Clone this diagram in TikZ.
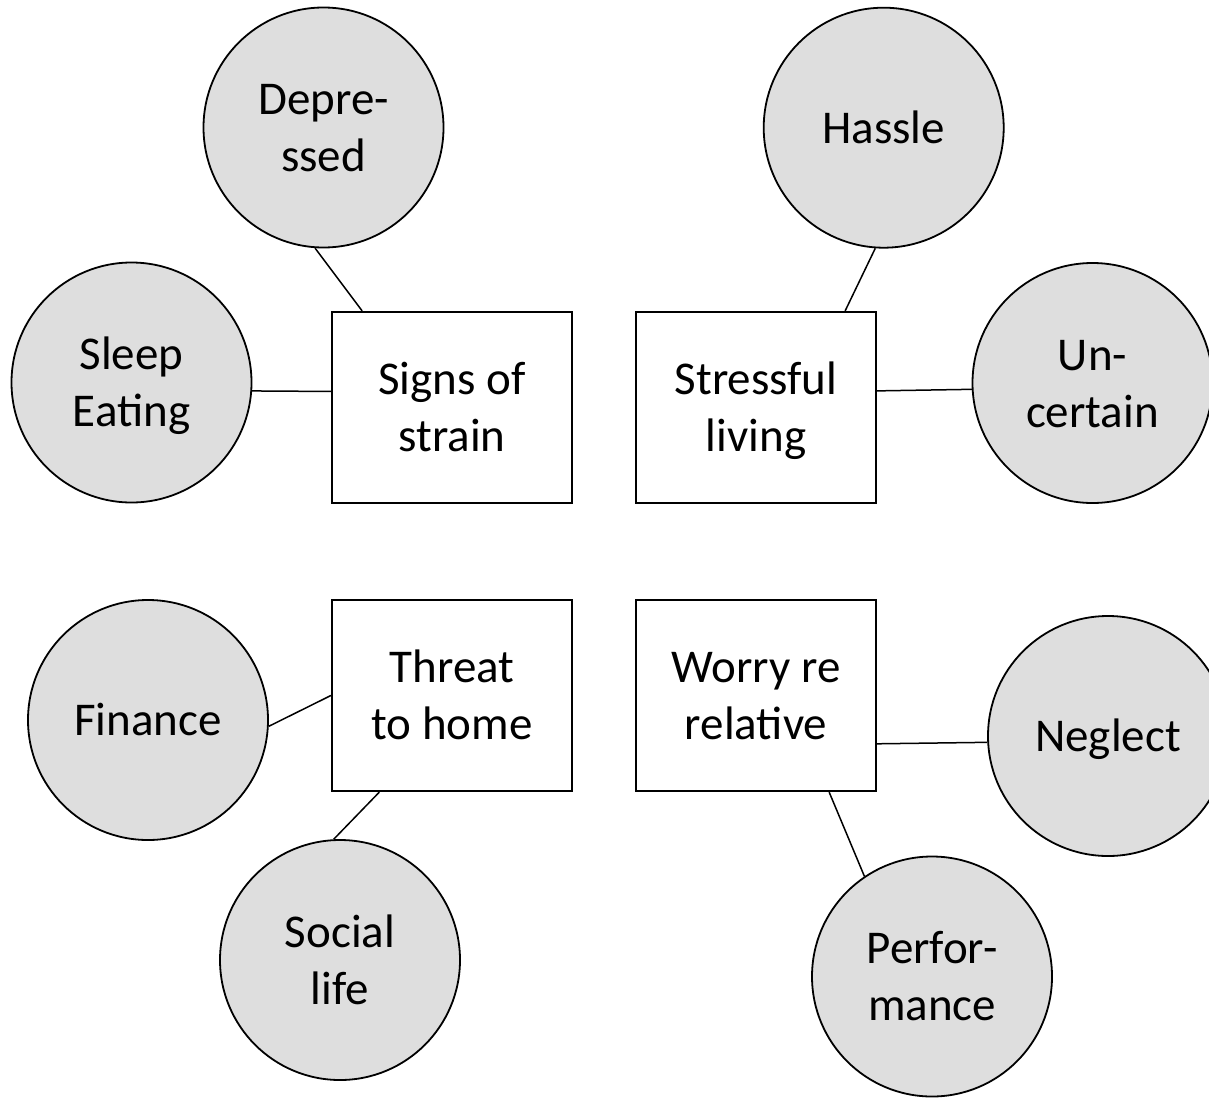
\documentclass[tikz,border=0pt]{standalone}
\usepackage{fontspec}
\setmainfont{Carlito}
\usetikzlibrary{calc}
\definecolor{bubble}{RGB}{222,222,222}
\newcommand{\labelfont}{\fontsize{47}{57}\selectfont}
% fixed line box: every line is 44pt above and 13pt below its baseline
\newcommand{\lbox}{\rule[-13pt]{0pt}{57pt}}
\begin{document}
\begin{tikzpicture}[x=1pt,y=-1pt,
  topic/.style={circle, draw=black, line width=1.8pt, fill=bubble,
    minimum size=240pt, inner sep=0pt, align=center, font=\labelfont},
  theme/.style={rectangle, draw=black, line width=2.2pt, fill=white,
    minimum width=240pt, minimum height=191pt, inner sep=0pt,
    align=center, font=\labelfont},
  link/.style={draw=black, line width=1.5pt}]
\useasboundingbox (0,0) rectangle (1209,1097);

% central themes
\node[theme] (signs)  at (452,407.5) {\lbox Signs of\\\lbox strain};
\node[theme] (stress) at (756,407.5) {\lbox Stressful\\\lbox living};
\node[theme] (threat) at (452,695.5) {\lbox Threat\\\lbox to home};
\node[theme] (worry)  at (756,695.5) {\lbox Worry re\\\lbox relative};

% surrounding topics
\node[topic] (dep)     at (323.5,127.5) {\lbox Depre-\\\lbox ssed};
\node[topic] (sleep)   at (131.5,382.5) {\lbox Sleep\\\lbox Eating};
\node[topic] (hassle)  at (883.7,127.7) {\lbox Hassle};
\node[topic] (uncert)  at (1092.5,383)  {\lbox Un-\\\lbox certain};
\node[topic] (fin)     at (148,720)     {\lbox Finance};
\node[topic] (social)  at (340,960)     {\lbox Social\\\lbox life};
\node[topic] (neglect) at (1108,736)    {\lbox Neglect};
\node[topic] (perf)    at (932,976.5)   {\lbox Perfor-\\\lbox mance};

% connectors
\draw[link] (dep.266.8) -- ($(signs.north west)!0.129!(signs.north east)$);
\draw[link] (sleep.-4.4) -- ($(signs.north west)!0.417!(signs.south west)$);
\draw[link] (hassle.266.3) -- ($(stress.north west)!0.868!(stress.north east)$);
\draw[link] (uncert.183.8) -- ($(stress.north east)!0.414!(stress.south east)$);
\draw[link] (fin.-3.8) -- (threat.west);
\draw[link] (social.93.8) -- ($(threat.south west)!0.2!(threat.south east)$);
\draw[link] (neglect.183.5) -- ($(worry.north east)!0.75!(worry.south east)$);
\draw[link] (perf.124.4) -- ($(worry.south west)!0.802!(worry.south east)$);
\end{tikzpicture}
\end{document}
